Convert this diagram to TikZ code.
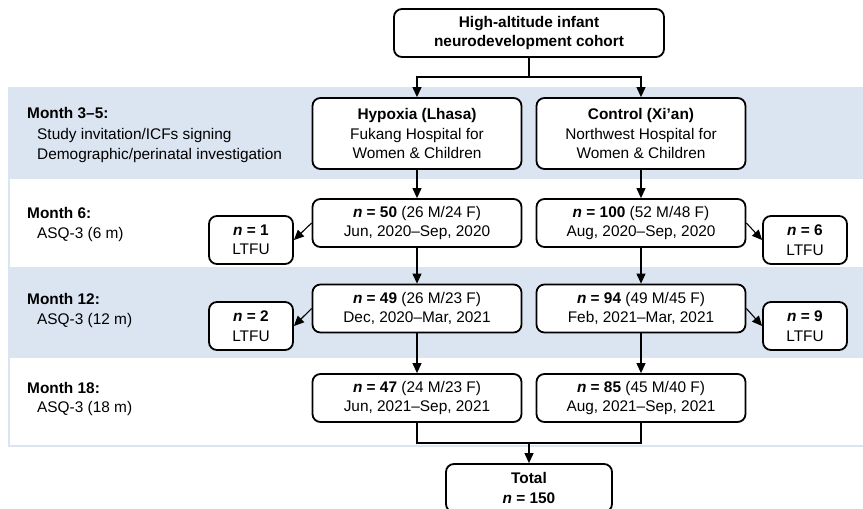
\documentclass[tikz,border=0pt]{standalone}
\usepackage{fontspec}
\setmainfont{Liberation Sans}
\usetikzlibrary{positioning, arrows.meta}
\definecolor{bandblue}{RGB}{219,228,241}
\newcommand{\nval}[1]{\textbf{\textit{n} = #1}}

\begin{document}
\begin{tikzpicture}[
	x=1pt, y=-1pt,
	font=\fontsize{15.4}{19.5}\selectfont,
	box/.style={draw, fill=white, rounded corners=8pt, line width=1.8pt, align=center, inner sep=0pt, minimum width=209pt, minimum height=48pt},
	lostbox/.style={box, minimum width=84pt},
	monthlabel/.style={anchor=base west, inner sep=0pt},
	link/.style={line width=1.1pt},
	arrow/.style={link, -{Triangle[length=10pt, width=9pt]}}
	]
	\useasboundingbox (0,0) rectangle (863,509);

	% Bands
	\fill[bandblue] (9,88) rectangle (863,179);
	\fill[bandblue] (9,267) rectangle (863,358);
	\draw[bandblue, line width=2pt] (9,88) rectangle (875,446);

	% Nodes
	\node[box, minimum width=270pt] (cohort) at (529,33) {\textbf{High-altitude infant}\\\textbf{neurodevelopment cohort}};
	\node[box, minimum height=71pt] (hypoxia) at (417,133.5) {\textbf{Hypoxia (Lhasa)}\\Fukang Hospital for\\Women \& Children};
	\node[box, minimum height=71pt] (control) at (641,133.5) {\textbf{Control (Xi’an)}\\Northwest Hospital for\\Women \& Children};

	\node[box] (hyp6) at (417,223) {\nval{50} (26 M/24 F)\\Jun, 2020–Sep, 2020};
	\node[box] (con6) at (641,223) {\nval{100} (52 M/48 F)\\Aug, 2020–Sep, 2020};
	\node[lostbox] (hypLost6) at (251,240) {\nval{1}\\LTFU};
	\node[lostbox] (conLost6) at (805,240) {\nval{6}\\LTFU};

	\node[box] (hyp12) at (417,308.5) {\nval{49} (26 M/23 F)\\Dec, 2020–Mar, 2021};
	\node[box] (con12) at (641,308.5) {\nval{94} (49 M/45 F)\\Feb, 2021–Mar, 2021};
	\node[lostbox] (hypLost12) at (251,326) {\nval{2}\\LTFU};
	\node[lostbox] (conLost12) at (805,326) {\nval{9}\\LTFU};

	\node[box] (hyp18) at (417,398) {\nval{47} (24 M/23 F)\\Jun, 2021–Sep, 2021};
	\node[box] (con18) at (641,398) {\nval{85} (45 M/40 F)\\Aug, 2021–Sep, 2021};

	\node[box, minimum width=166pt] (total) at (529,488) {\textbf{Total}\\\nval{150}};

	% Month labels
	\node[monthlabel] (m35) at (27,118) {\textbf{Month 3–5:}};
	\node[monthlabel] (m35a) at (37,139.5) {Study invitation/ICFs signing};
	\node[monthlabel] (m35b) at (37,159) {Demographic/perinatal investigation};
	\node[monthlabel] (m6) at (27,218.5) {\textbf{Month 6:}};
	\node[monthlabel] (m6a) at (37,238) {ASQ-3 (6 m)};
	\node[monthlabel] (m12) at (27,304.5) {\textbf{Month 12:}};
	\node[monthlabel] (m12a) at (37,324) {ASQ-3 (12 m)};
	\node[monthlabel] (m18) at (27,393) {\textbf{Month 18:}};
	\node[monthlabel] (m18a) at (37,412.5) {ASQ-3 (18 m)};

	% Edges
	\coordinate (split) at (529,77);
	\coordinate (join) at (529,443);
	\draw[link] (cohort.south) -- (split);
	\draw[arrow] (split) -| (hypoxia.north);
	\draw[arrow] (split) -| (control.north);
	\draw[arrow] (hypoxia) -- (hyp6);
	\draw[arrow] (control) -- (con6);
	\draw[arrow] (hyp6) -- (hyp12);
	\draw[arrow] (con6) -- (con12);
	\draw[arrow] (hyp12) -- (hyp18);
	\draw[arrow] (con12) -- (con18);
	\draw[arrow] (hyp6.west) -- (hypLost6.east);
	\draw[arrow] (con6.east) -- (conLost6.west);
	\draw[arrow] (hyp12.west) -- (hypLost12.east);
	\draw[arrow] (con12.east) -- (conLost12.west);
	\draw[link] (hyp18.south) |- (join) -| (con18.south);
	\draw[arrow] (join) -- (total);
\end{tikzpicture}
\end{document}
